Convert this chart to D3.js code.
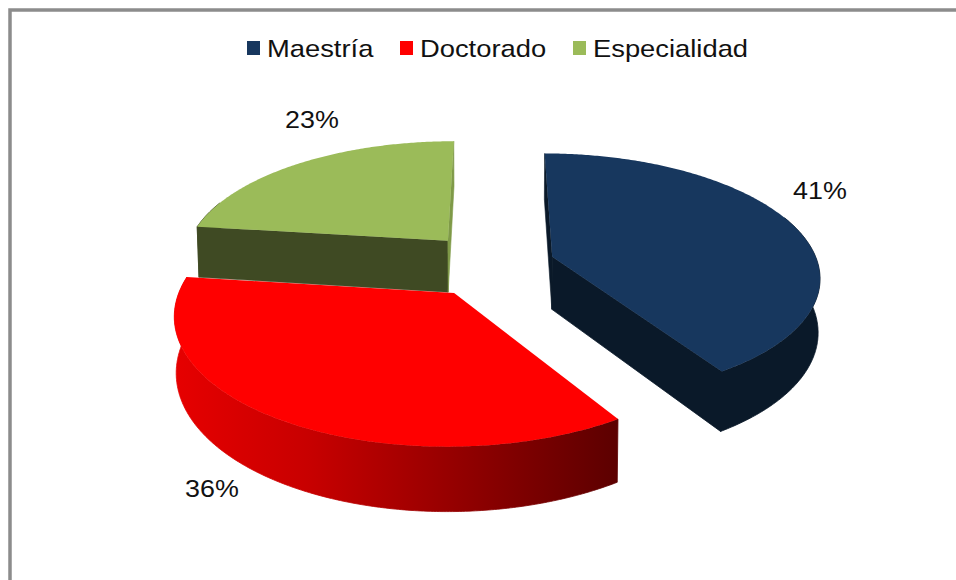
<!DOCTYPE html>
<html><head><meta charset="utf-8">
<script src="https://cdnjs.cloudflare.com/ajax/libs/d3/7.8.5/d3.min.js"></script>
<style>html,body{margin:0;padding:0;background:#fff;overflow:hidden}svg{display:block}
text{font-family:"Liberation Sans",Arial,sans-serif;font-size:24px;fill:#111}</style>
</head><body><script>
const categories = ["Maestría","Doctorado","Especialidad"];
const values = [41,36,23];
const labels = ["41%","36%","23%"];
const topColors = ["#17375e","#ff0000","#9bbb59"];
const wallColors = ["#0a1929","#7a0000","#3f4a23"];
const sliverColor = "#7f9a48";
const explode = [0.23,0.27,0.27];
const labelPos = [[820,199],[212,497],[312,128]];
const legendX = [247,400,573];

const W=956,H=580;
const svg=d3.select("body").append("svg").attr("width",W).attr("height",H);
svg.append("rect").attr("x",10).attr("y",10).attr("width",W+20).attr("height",H+20)
  .attr("fill","#fff").attr("stroke","#8c8c8c").attr("stroke-width",3.5);

const defs=svg.append("defs");
const grad=defs.append("linearGradient").attr("id","redSide").attr("gradientUnits","userSpaceOnUse")
  .attr("x1",175).attr("x2",617).attr("y1",0).attr("y2",0);
grad.append("stop").attr("offset",0).attr("stop-color","#e60000");
grad.append("stop").attr("offset",0.3).attr("stop-color","#c80000");
grad.append("stop").attr("offset",1).attr("stop-color","#5c0000");

const cx=494,cy=264.5,R=266,RY=121,k=0.15,m=0.006,D=53;
const pie=d3.pie().sort(null).value(d=>d);
const arcs=pie(values);
const line=d3.line();
function project(a,r,mid,e,h){
  const px=r*Math.sin(a)+e*Math.sin(mid), py=r*Math.cos(a)+e*Math.cos(mid);
  const s=1/(1+k*py);
  return [cx+R*px*s*(1-m*h), cy-RY*py*s+D*h*s];
}
const order=[2,0,1];
const g=svg.append("g");
order.forEach(i=>{
  const d=arcs[i],mid=(d.startAngle+d.endAngle)/2,e=explode[i];
  const n=Math.ceil((d.endAngle-d.startAngle)/0.01);
  const angles=d3.range(n+1).map(j=>d.startAngle+(d.endAngle-d.startAngle)*j/n);
  const rim=(h,list)=>list.map(a=>project(a,1,mid,e,h));
  const wall=a=>[project(a,0,mid,e,0),project(a,1,mid,e,0),project(a,1,mid,e,1),project(a,0,mid,e,1)];
  const front=angles.filter(a=>Math.cos(a)<0.35);
  const sideFill=i===1?"url(#redSide)":wallColors[i];
  const startWall=wall(d.startAngle), endWall=wall(d.endAngle);
  const showEnd=d3.polygonArea(endWall)<0;
  const endColor=i===2?sliverColor:wallColors[i];
  // an end wall of the same colour as the outer side joins it in one path, so no seam shows
  let sideD=front.length>1?line(rim(0,front).concat(rim(1,front).reverse()))+"Z":"";
  const merged=showEnd&&front.length>1&&endColor===sideFill;
  if(merged) sideD+=line(endWall)+"Z";
  if(sideD) g.append("path").attr("d",sideD).attr("fill",sideFill).attr("fill-rule","nonzero")
      .attr("stroke",sideFill).attr("stroke-width",0.8);
  if(d3.polygonArea(startWall)>0){
    g.append("path").attr("d",line(startWall)+"Z").attr("fill",wallColors[i]).attr("stroke",wallColors[i]).attr("stroke-width",0.6);
  }
  if(showEnd&&!merged){
    g.append("path").attr("d",line(endWall)+"Z").attr("fill",endColor).attr("stroke",endColor).attr("stroke-width",0.6);
  }
  g.append("path").attr("d",line([project(0,0,mid,e,0)].concat(rim(0,angles)))+"Z").attr("fill",topColors[i]);
});

svg.selectAll("text.lab").data(labels).join("text").attr("class","lab")
  .attr("text-anchor","middle")
  .attr("transform",(d,i)=>`translate(${labelPos[i][0]},${labelPos[i][1]}) scale(1.12,1)`)
  .text(d=>d);

const leg=svg.selectAll("g.leg").data(categories).join("g").attr("class","leg")
  .attr("transform",(d,i)=>`translate(${legendX[i]},0)`);
leg.append("rect").attr("x",0).attr("y",41).attr("width",13).attr("height",14).attr("fill",(d,i)=>topColors[i]);
leg.append("text").attr("transform","translate(20,57) scale(1.14,1)").text(d=>d);
</script></body></html>
